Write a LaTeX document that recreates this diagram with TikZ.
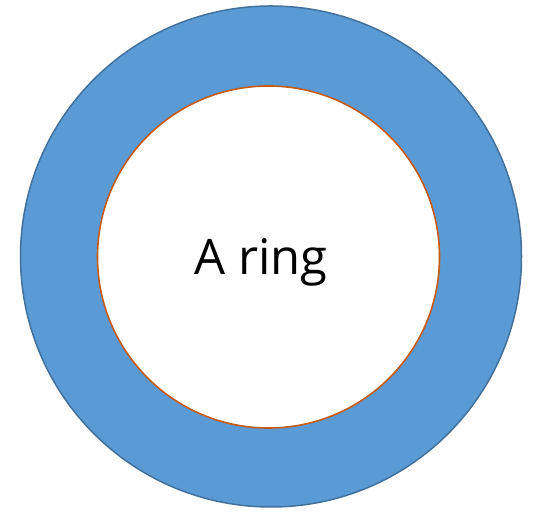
\documentclass[tikz,border=0pt]{standalone}
\usepackage{fontspec}
\setmainfont{Open Sans}
\usepackage{tikz}
\usetikzlibrary{positioning}
\definecolor{ringBlue}   {RGB}{91, 155, 213}
\definecolor{ringEdge}   {RGB}{65, 113, 156}
\definecolor{holeEdge}   {RGB}{197, 90,  17}

\begin{document}
\begin{tikzpicture}[x=1pt,y=1pt]

    \useasboundingbox (0,0) rectangle (538,513);

    % anneau exterieur
    \node[circle,draw=ringEdge,fill=ringBlue,line width=1.5pt,
          minimum size=501pt,inner sep=0pt] (outer) at (271,256.5){};

    % trou interieur
    \node[circle,draw=holeEdge,fill=white,line width=1.6pt,
          minimum size=342pt,inner sep=0pt] (inner) at (268.5,256){};

    % texte
    \node[anchor=base,font=\fontsize{49}{58}\selectfont,inner sep=0pt]
      (label) at (261,238){A ring};

  \end{tikzpicture}
\end{document}
